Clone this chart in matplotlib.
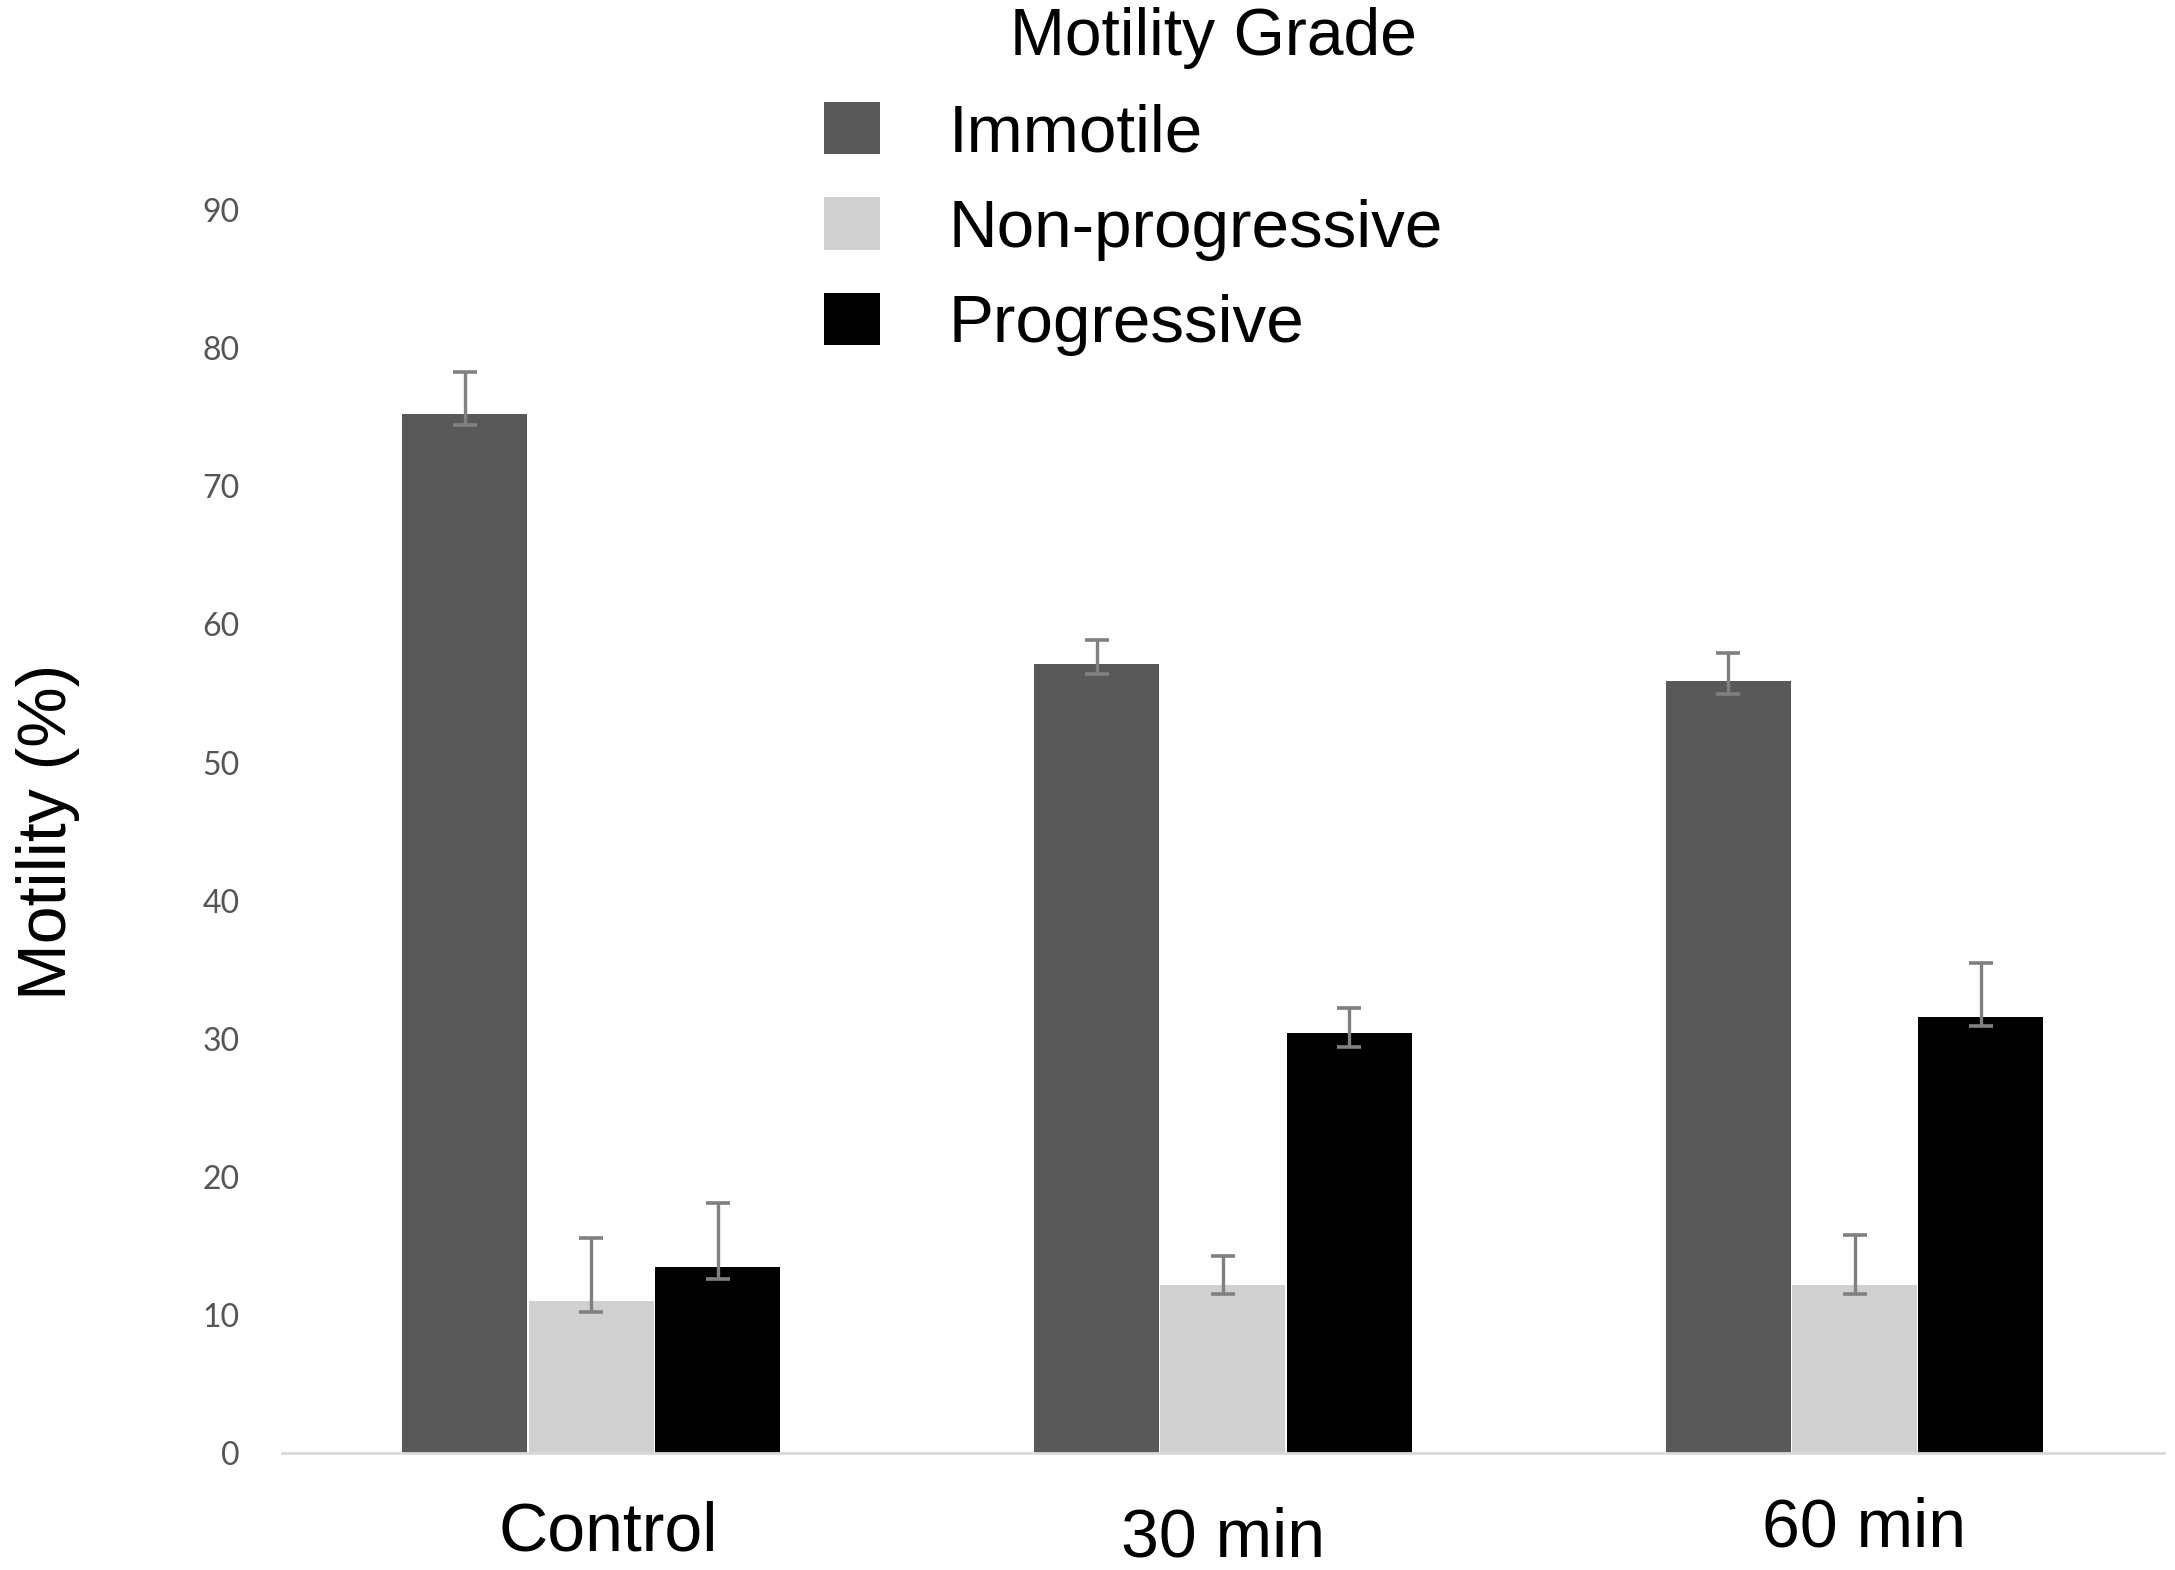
import matplotlib
matplotlib.use("Agg")
import matplotlib.pyplot as plt
from matplotlib.patches import Patch
from matplotlib.transforms import ScaledTranslation
import numpy as np

categories = ["Control", "30 min", "60 min"]
series = ["Immotile", "Non-progressive", "Progressive"]
immotile = [75.2, 57.1, 55.9]
immotile_err_up = [3.1, 1.8, 2.0]
immotile_err_low = [0.8, 0.7, 0.95]
nonprog = [11.0, 12.2, 12.2]
nonprog_err_up = [4.6, 2.1, 3.6]
nonprog_err_low = [0.8, 0.65, 0.7]
prog = [13.5, 30.4, 31.6]
prog_err_up = [4.6, 1.8, 3.9]
prog_err_low = [0.9, 1.0, 0.7]
yticks = [0, 10, 20, 30, 40, 50, 60, 70, 80, 90]
colors = ["#595959", "#d0d0d0", "#000000"]

fig = plt.figure(figsize=(21.75, 15.70), dpi=100)
ax = fig.add_axes([0.1295, 0.0743, 0.8655, 0.792])

x = np.arange(len(categories))
w = 0.2
vals = [immotile, nonprog, prog]
errs = [[immotile_err_low, immotile_err_up], [nonprog_err_low, nonprog_err_up], [prog_err_low, prog_err_up]]
for i, (v, e, c) in enumerate(zip(vals, errs, colors)):
    ax.bar(x + (i - 1) * w, v, width=w * 0.99, color=c, zorder=2,
           yerr=e, error_kw=dict(ecolor="#808080", elinewidth=2.4, capsize=8.5, capthick=2.6, zorder=3))

ax.set_xlim(-0.49, 2.49)
ax.set_ylim(0, 90)
ax.set_yticks(yticks)
ax.set_yticklabels([str(t) for t in yticks], fontsize=23, color="#555555", family="Lato")
ax.set_xticks(x)
ax.set_xticklabels(categories, fontsize=49, family="Liberation Sans")
ax.tick_params(axis="both", length=0)
ax.tick_params(axis="y", pad=30)
ax.tick_params(axis="x", pad=26)
label_offsets_pt = [(12, -8), (0, -12), (7, -5)]
for lab, (dx, dy) in zip(ax.get_xticklabels(), label_offsets_pt):
    lab.set_transform(lab.get_transform() + ScaledTranslation(dx / 72, dy / 72, fig.dpi_scale_trans))
for s in ["top", "right", "left"]:
    ax.spines[s].set_visible(False)
ax.spines["bottom"].set_color("#d9d9d9")
ax.spines["bottom"].set_linewidth(2)
ax.set_ylabel("Motility (%)", fontsize=49, family="Liberation Sans")
ax.yaxis.set_label_coords(-0.107, 0.50)

handles = [Patch(facecolor=c, edgecolor="none") for c in colors]
fig.legend(handles, series, loc="upper left", bbox_to_anchor=(0.379, 0.935),
           frameon=False, prop={"family": "Liberation Sans", "size": 48.5},
           borderpad=0, borderaxespad=0, handlelength=0.82, handleheight=0.82,
           handletextpad=1.02, labelspacing=0.47)
fig.text(0.558, 0.976, "Motility Grade", ha="center", va="center", fontsize=47.5, family="Liberation Sans")

fig.savefig("out.png", dpi=100)
